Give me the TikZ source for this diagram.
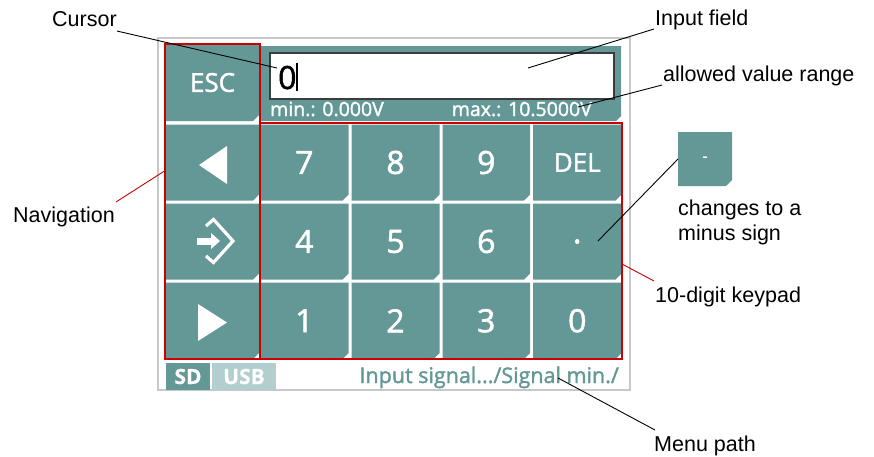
\documentclass[tikz,border=0pt]{standalone}
\usepackage{fontspec}
\setmainfont{Liberation Sans}
\newfontfamily\scr[FakeBold=1.6]{Open Sans}
\newfontfamily\scrb[FakeBold=0.6]{Open Sans Bold}
\usetikzlibrary{calc}
\definecolor{teal1}{RGB}{100,152,151}
\definecolor{tealL}{RGB}{178,206,206}
\definecolor{redbox}{RGB}{204,0,0}
\definecolor{framegray}{RGB}{200,200,200}
\definecolor{fieldgray}{RGB}{60,60,60}
\newcommand\keybtn[7][keytxt]{%
  \fill[teal1] (#3,#4) -- (#5,#4) -- (#5,{#6-6}) -- ({#5-6},#6) -- (#3,#6) -- cycle;
  \node[#1] (#2) at ({(#3+#5)/2},{(#4+#6)/2}) {#7};}
\begin{document}
\begin{tikzpicture}[x=1pt,y=-1pt,
  lbl/.style={font=\fontsize{21.5}{25}\selectfont, inner sep=0pt, text=black},
  callout/.style={black, line width=0.9pt},
  rcallout/.style={redbox, line width=0.9pt},
  keytxt/.style={text=white, font=\scr\fontsize{32}{32}\selectfont, inner sep=0pt},
  fntxt/.style={text=white, font=\scr\fontsize{26}{26}\selectfont, inner sep=0pt},
  redframe/.style={draw=redbox, line width=2.5pt},
  smalltxt/.style={text=white, font=\scr\fontsize{19.5}{19.5}\selectfont, inner sep=0pt},
  dashtxt/.style={text=white, font=\scr\fontsize{15}{15}\selectfont, inner sep=0pt},
]
\useasboundingbox[fill=white] (0,0) rectangle (874,456);
% screen frame
\draw[framegray, line width=1.5pt] (158,38) rectangle (630,390);
% top panel
\fill[teal1] (260,46) -- (621,46) -- (621,116) -- (616,121) -- (260,121) -- cycle;
\node[draw=fieldgray, fill=white, line width=1.5pt, minimum width=344pt, minimum height=46pt, inner sep=0pt] (field) at (442,76) {};
\node[anchor=base west, inner sep=0pt, font=\scr\fontsize{32}{32}\selectfont] (zero) at (278,89) {0};
\draw[black, line width=1.5pt] (297,63) -- (297,91);
\node[smalltxt, anchor=base west] (minv) at (270,116) {min.: 0.000V};
\node[smalltxt, anchor=base east] (maxv) at (592,116) {max.: 10.5000V};
% left column
\keybtn[fntxt]{esc}{166}{44}{259}{121}{ESC}
\keybtn{back}{166}{124.5}{259}{200.5}{}
\keybtn{enter}{166}{203.5}{259}{279.5}{}
\keybtn{fwd}{166}{282.5}{259}{359}{}
\fill[white] (199,165) -- (227,146) -- (227,184) -- cycle;
\fill[white] (198,304) -- (198,341) -- (227,322.5) -- cycle;
\fill[white] (197,237.5) rectangle (212,244.5);
\fill[white] (211,233) -- (220,241) -- (211,249) -- cycle;
\draw[white, line width=3.2pt, miter limit=10] (206,226) -- (213.5,219.5) -- (233,241) -- (213.5,262.5) -- (206,256);
% keypad
\keybtn{k7}{260}{124.5}{348.5}{200.5}{7}
\keybtn{k8}{351.5}{124.5}{439.5}{200.5}{8}
\keybtn{k9}{442.5}{124.5}{530}{200.5}{9}
\keybtn[fntxt]{kdel}{533}{124.5}{621.5}{200.5}{DEL}
\keybtn{k4}{260}{203.5}{348.5}{279.5}{4}
\keybtn{k5}{351.5}{203.5}{439.5}{279.5}{5}
\keybtn{k6}{442.5}{203.5}{530}{279.5}{6}
\keybtn{kdot}{533}{203.5}{621.5}{279.5}{.}
\keybtn{k1}{260}{282.5}{348.5}{359}{1}
\keybtn{k2}{351.5}{282.5}{439.5}{359}{2}
\keybtn{k3}{442.5}{282.5}{530}{359}{3}
\keybtn{k0}{533}{282.5}{621.5}{359}{0}
% red frames
\draw[redframe] (165,44) rectangle (260,359);
\draw[redframe] (260,123) rectangle (622,359);
% status bar
\node[fill=teal1, minimum width=44pt, minimum height=27pt, inner sep=0pt, text=white, font=\scrb\fontsize{21}{21}\selectfont] (sd) at (188,376.5) {SD};
\node[fill=tealL, minimum width=64pt, minimum height=27pt, inner sep=0pt, text=white, font=\scrb\fontsize{21}{21}\selectfont] (usb) at (244,376.5) {USB};
\node[anchor=base east, inner sep=0pt, text=teal1, font=\scr\fontsize{21.5}{21.5}\selectfont] (menu) at (619,383) {Input signal.../Signal min./};
% minus key
\keybtn[dashtxt]{kminus}{678}{132}{732}{186}{-}
% labels
\node[lbl, anchor=base west] (lcursor) at (52,26) {Cursor};
\node[lbl, anchor=base west] (lfield) at (655,25) {Input field};
\node[lbl, anchor=base west] (lrange) at (663,81) {allowed value range};
\node[lbl, anchor=base west] (lnav) at (13,222) {Navigation};
\node[lbl, anchor=base west] (lchg1) at (678,215) {changes to a};
\node[lbl, anchor=base west] (lchg2) at (678,240) {minus sign};
\node[lbl, anchor=base west] (lkeypad) at (655,302) {10-digit keypad};
\node[lbl, anchor=base west] (lmenu) at (654,451) {Menu path};
% callout end points
\coordinate (pcursor) at (277,68);
\coordinate (pfield) at (528,68);
\coordinate (prange) at (578,107);
\coordinate (pnav) at (166,170);
\coordinate (pdot) at (598,241);
\coordinate (pkeypad) at (622,264);
\coordinate (pmenu) at (558,378);
% callouts
\draw[callout] ($(lcursor.base east)+(0,5)$) -- (pcursor);
\draw[callout] ($(lfield.base west)+(-1,4)$) -- (pfield);
\draw[callout] ($(lrange.base west)+(-1,4)$) -- (prange);
\draw[rcallout] ($(lnav.base east)+(1,-20)$) -- (pnav);
\draw[callout] (kminus.center -| 678,186) -- (pdot);
\draw[rcallout] ($(lkeypad.base west)+(-1,-21)$) -- (pkeypad);
\draw[callout] ($(lmenu.base west)+(1,-21)$) -- (pmenu);
\end{tikzpicture}
\end{document}
